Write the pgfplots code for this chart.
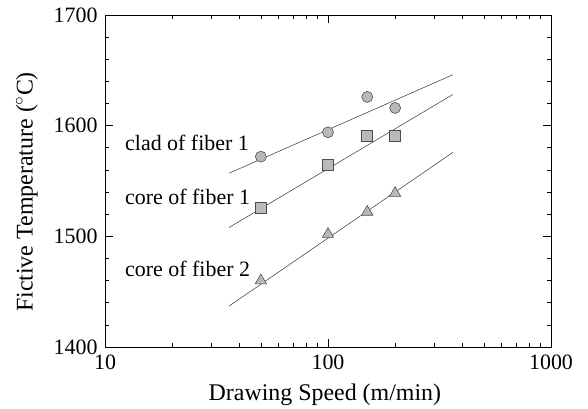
\documentclass[border=0pt]{standalone}
\usepackage{fontspec}
\setmainfont{Liberation Serif}
\usepackage{pgfplots}
\pgfplotsset{compat=1.18}
\begin{document}
\fontsize{22}{26}\selectfont
\begin{tikzpicture}
\begin{axis}[
  name=ax,
  scale only axis,
  width=446bp, height=332bp,
  xmode=log, xmin=10, xmax=1000,
  ymin=1400, ymax=1700,
  log ticks with fixed point,
  ytick={1400,1500,1600,1700},
  minor y tick num=4,
  tick align=inside,
  major tick length=8bp, minor tick length=4bp,
  tick style={black, line width=0.7pt},
  axis line style={line width=0.8pt},
  /pgf/number format/assume math mode=true,
  /pgf/number format/1000 sep={},
  tick label style={font=\fontsize{22}{25}\selectfont},
  xlabel style={font=\fontsize{24}{28}\selectfont, at={(axis description cs:0.493,-0.143)}, anchor=center},
  ylabel style={font=\fontsize{24}{28}\selectfont, at={(axis description cs:-0.175,0.467)}, anchor=center},
  xlabel={Drawing Speed (m/min)},
  ylabel={Fictive Temperature ($^{\circ}$C)},
  every axis plot/.append style={line width=0.5pt},
]
% fit lines
\addplot[black!80, no marks] coordinates {(36,1557) (363,1646)};
\addplot[black!80, no marks] coordinates {(36,1508) (362,1628)};
\addplot[black!80, no marks] coordinates {(36,1437) (364,1576)};
% data
\addplot[only marks, mark=*, mark size=5.5bp, mark options={fill=gray!55, draw=black!70, line width=0.6pt}]
  coordinates {(50,1572) (100,1594) (150,1626) (200,1616)};
\addplot[only marks, mark=square*, mark size=5.5bp, mark options={fill=gray!55, draw=black!70, line width=0.6pt}]
  coordinates {(50,1526) (100,1565) (150,1591) (200,1591)};
\addplot[only marks, mark=triangle*, mark size=6.5bp, mark options={fill=gray!55, draw=black!70, line width=0.6pt}]
  coordinates {(50,1460) (100,1502) (150,1522) (200,1539)};
\node[anchor=west, inner sep=0pt, font=\fontsize{22}{26}\selectfont] at (axis cs:12.3,1584) {clad of fiber 1};
\node[anchor=west, inner sep=0pt, font=\fontsize{22}{26}\selectfont] at (axis cs:12.3,1535.5) {core of fiber 1};
\node[anchor=west, inner sep=0pt, font=\fontsize{22}{26}\selectfont] at (axis cs:12.3,1470.5) {core of fiber 2};
\end{axis}
\pgfresetboundingbox
\useasboundingbox (-105bp,-62bp) rectangle (483bp,347bp);
\end{tikzpicture}
\end{document}
